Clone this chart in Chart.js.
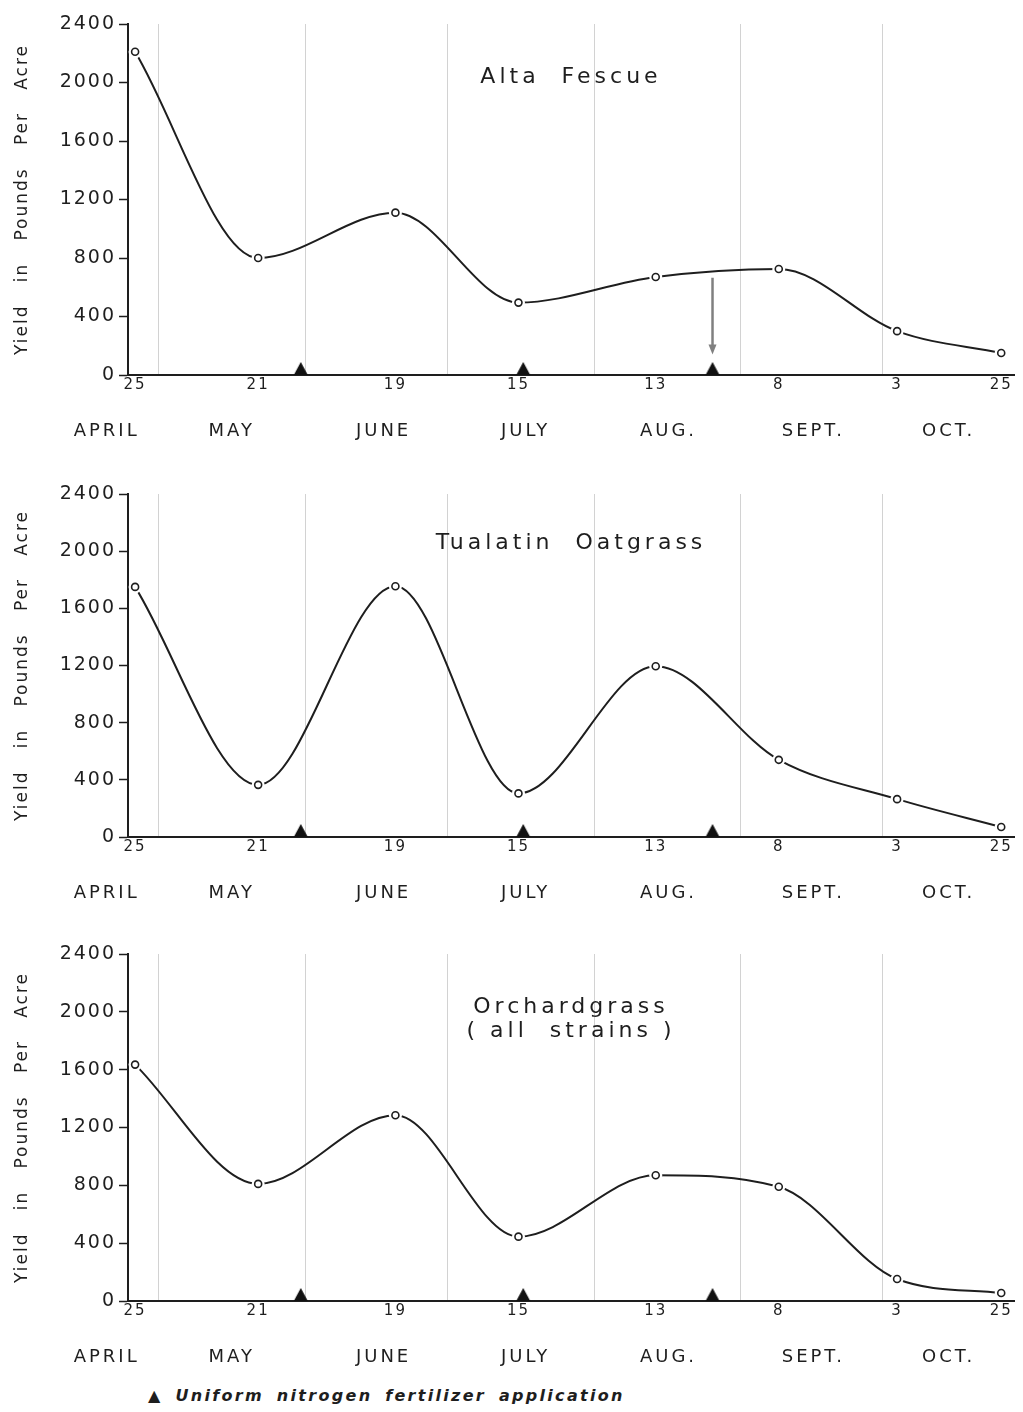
<!DOCTYPE html>
<html>
<head>
<meta charset="utf-8">
<script src="https://cdn.jsdelivr.net/npm/chart.js@4.4.1/dist/chart.umd.min.js"></script>
<style>
  body { margin: 0; background: #fff; width: 1023px; height: 1412px; position: relative; overflow: hidden; }
  .panel { position: absolute; left: 0; width: 1023px; }
  #p1 { top: 0; height: 465px; }
  #p2 { top: 465px; height: 465px; }
  #p3 { top: 930px; height: 445px; }
  #note { position: absolute; top: 1386px; left: 148px; font: italic bold 16px "DejaVu Sans", sans-serif;
          letter-spacing: 2.3px; word-spacing: 5px; color: #1e1e1e; }
</style>
</head>
<body>
<div class="panel" id="p1"><canvas id="c1"></canvas></div>
<div class="panel" id="p2"><canvas id="c2"></canvas></div>
<div class="panel" id="p3"><canvas id="c3"></canvas></div>
<div id="note">▲ Uniform nitrogen fertilizer application</div>

<script>
// x values are day of year (Apr 25 = 115 ... Oct 25 = 298)
var sampleDays = [115, 141, 170, 196, 225, 251, 276, 298];
var dayLabels = ["25", "21", "19", "15", "13", "8", "3", "25"];
var monthNames = ["APRIL", "MAY", "JUNE", "JULY", "AUG.", "SEPT.", "OCT."];
var monthLabelDays = [109, 135.4, 167.5, 197.5, 227.7, 258.3, 286.9];
var monthEndDays = [120, 151, 181, 212, 243, 273];
var fertilizerDays = [150, 197, 237];

// yield in pounds per acre
var altaFescue = [2210, 800, 1110, 495, 670, 725, 300, 150];
var tualatinOatgrass = [1750, 365, 1755, 305, 1195, 540, 265, 70];
var orchardgrass = [1635, 810, 1285, 445, 870, 790, 152, 55];

var ink = "#1e1e1e";

// black triangle that sits on the x axis
var tri = document.createElement("canvas");
tri.width = 16;
tri.height = 28;
var tctx = tri.getContext("2d");
tctx.fillStyle = "#111";
tctx.beginPath();
tctx.moveTo(1, 14);
tctx.lineTo(15, 14);
tctx.lineTo(8, 1);
tctx.closePath();
tctx.fill();

function toPoints(values) {
  return sampleDays.map(function (d, i) {
    return { x: d, y: values[i] };
  });
}

function decor(titleLines, titleOffset, arrows) {
  return {
    id: "decor",
    beforeLayout: function (chart) {
      chart.ctx.letterSpacing = "2px";
    },
    beforeDraw: function (chart) {
      chart.ctx.letterSpacing = "2px";
    },
    afterDraw: function (chart) {
      var ctx = chart.ctx;
      var xs = chart.scales.x;
      var ys = chart.scales.y;
      var area = chart.chartArea;
      ctx.save();
      ctx.fillStyle = ink;
      ctx.textAlign = "center";
      ctx.textBaseline = "middle";

      // month names under the day ticks
      ctx.font = '18px "DejaVu Sans"';
      ctx.letterSpacing = "3px";
      for (var i = 0; i < monthNames.length; i++) {
        ctx.fillText(monthNames[i], xs.getPixelForValue(monthLabelDays[i]), area.bottom + 56);
      }

      // panel title
      ctx.font = '22px "DejaVu Sans"';
      ctx.letterSpacing = "4px";
      for (var j = 0; j < titleLines.length; j++) {
        ctx.fillText(titleLines[j], (area.left + area.right) / 2, area.top + titleOffset + j * 24);
      }

      // arrows
      arrows.forEach(function (a) {
        var px = xs.getPixelForValue(a.day);
        var y1 = ys.getPixelForValue(a.from);
        var y2 = ys.getPixelForValue(a.to);
        ctx.strokeStyle = "#808080";
        ctx.fillStyle = "#808080";
        ctx.lineWidth = 2.5;
        ctx.beginPath();
        ctx.moveTo(px, y1);
        ctx.lineTo(px, y2 - 8);
        ctx.stroke();
        ctx.beginPath();
        ctx.moveTo(px - 4, y2 - 10);
        ctx.lineTo(px + 4, y2 - 10);
        ctx.lineTo(px, y2);
        ctx.closePath();
        ctx.fill();
      });
      ctx.restore();
    },
  };
}

function makeChart(id, values, titleLines, titleOffset, padTop, axisHeight, arrows) {
  var pts = toPoints(values);
  var ctx = document.getElementById(id).getContext("2d");
  return new Chart(ctx, {
    type: "line",
    data: {
      datasets: [
        {
          data: pts,
          borderColor: ink,
          borderWidth: 2,
          pointRadius: 0,
          cubicInterpolationMode: "monotone",
          fill: false,
          order: 3,
        },
        {
          data: pts,
          showLine: false,
          pointRadius: 6.5,
          pointBackgroundColor: "#fff",
          pointBorderWidth: 0,
          order: 2,
        },
        {
          data: pts,
          showLine: false,
          pointRadius: 3.5,
          pointBackgroundColor: "#fff",
          pointBorderColor: ink,
          pointBorderWidth: 1.6,
          order: 1,
        },
        {
          data: fertilizerDays.map(function (d) {
            return { x: d, y: 0 };
          }),
          showLine: false,
          pointStyle: tri,
          pointRadius: 8,
          clip: false,
          order: 0,
        },
      ],
    },
    options: {
      responsive: true,
      maintainAspectRatio: false,
      animation: false,
      events: [],
      layout: { padding: { top: padTop, right: 3, bottom: 0, left: 0 } },
      plugins: { legend: { display: false }, tooltip: { enabled: false } },
      scales: {
        x: {
          type: "linear",
          min: 113.5,
          max: 300.7,
          afterFit: function (s) {
            s.height = axisHeight;
          },
          afterBuildTicks: function (s) {
            s.ticks = sampleDays.concat(monthEndDays).map(function (v) {
              return { value: v };
            });
          },
          border: { display: true, color: ink, width: 2 },
          grid: {
            drawTicks: false,
            lineWidth: 1,
            color: function (c) {
              if (c.tick && monthEndDays.indexOf(c.tick.value) >= 0) return "#d2d2d2";
              return "rgba(0,0,0,0)";
            },
          },
          ticks: {
            autoSkip: false,
            maxRotation: 0,
            padding: 1,
            color: ink,
            font: { family: "DejaVu Sans", size: 15 },
            callback: function (v) {
              var k = sampleDays.indexOf(v);
              return k >= 0 ? dayLabels[k] : "";
            },
          },
        },
        y: {
          min: 0,
          max: 2400,
          afterFit: function (s) {
            s.width = 128;
          },
          border: { display: true, color: ink, width: 2 },
          grid: { drawOnChartArea: false, drawTicks: true, tickLength: 9, tickColor: ink, tickWidth: 1.5 },
          ticks: {
            stepSize: 400,
            padding: 3,
            color: ink,
            font: { family: "DejaVu Sans", size: 19 },
            callback: function (v) {
              return String(v);
            },
          },
          title: {
            display: true,
            text: "Yield   in   Pounds   Per   Acre",
            color: ink,
            font: { family: "DejaVu Sans", size: 17 },
            padding: { top: 12, bottom: 0 },
          },
        },
      },
    },
    plugins: [decor(titleLines, titleOffset, arrows)],
  });
}

makeChart("c1", altaFescue, ["Alta  Fescue"], 53, 24, 90, [{ day: 237, from: 665, to: 140 }]);
makeChart("c2", tualatinOatgrass, ["Tualatin  Oatgrass"], 49, 29, 93, []);
makeChart("c3", orchardgrass, ["Orchardgrass", "( all  strains )"], 53, 24, 74, []);
</script>
</body>
</html>
